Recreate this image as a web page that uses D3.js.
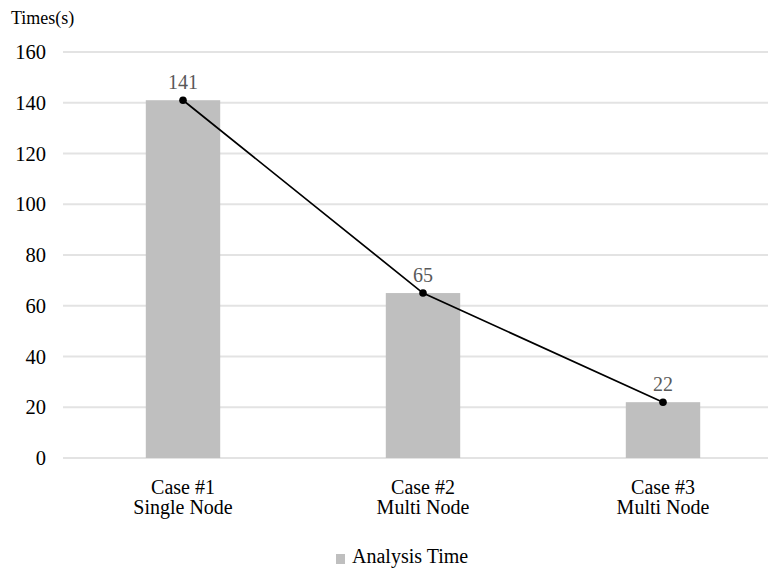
<!DOCTYPE html>
<html><head><meta charset="utf-8">
<script src="https://cdn.jsdelivr.net/npm/d3@7"></script>
<style>body{margin:0;background:#fff}svg{display:block}text{font-family:"Liberation Serif","Times New Roman",serif}</style>
</head><body><svg id="c" width="773" height="572"></svg>
<script>
const categories = [["Case #1","Single Node"],["Case #2","Multi Node"],["Case #3","Multi Node"]];
const values = [141, 65, 22];
const yTicks = [0,20,40,60,80,100,120,140,160];
const seriesName = "Analysis Time";
const yTitle = "Times(s)";

const svg = d3.select("#c");
const x = d3.scaleBand().domain(d3.range(categories.length)).range([63, 783]).paddingInner(0.69).paddingOuter(0.345);
const y = d3.scaleLinear().domain([0,160]).range([458, 52]);

svg.append("g").selectAll("line").data(yTicks).join("line")
  .attr("x1",63).attr("x2",768).attr("y1",d=>y(d)).attr("y2",d=>y(d))
  .attr("stroke","#e3e3e3").attr("stroke-width",2);

svg.append("g").selectAll("text").data(yTicks).join("text")
  .attr("x",46).attr("y",d=>y(d)).attr("dy","0.35em").attr("text-anchor","end")
  .attr("font-size",20.5).attr("fill","#000").text(d=>d);

svg.append("text").attr("x",11).attr("y",24).attr("font-size",18).text(yTitle);

const cx = i => x(i) + x.bandwidth()/2;

svg.append("g").selectAll("rect").data(values).join("rect")
  .attr("x",(d,i)=>x(i)).attr("width",x.bandwidth())
  .attr("y",d=>y(d)).attr("height",d=>y(0)-y(d)).attr("fill","#bfbfbf");

svg.append("path").datum(values)
  .attr("d", d3.line().x((d,i)=>cx(i)).y(d=>y(d)))
  .attr("fill","none").attr("stroke","#000").attr("stroke-width",1.7);
svg.append("g").selectAll("circle").data(values).join("circle")
  .attr("cx",(d,i)=>cx(i)).attr("cy",d=>y(d)).attr("r",3.8).attr("fill","#000");

svg.append("g").selectAll("text").data(values).join("text")
  .attr("x",(d,i)=>cx(i)).attr("y",d=>y(d)-11).attr("text-anchor","middle")
  .attr("font-size",20).attr("fill","#595959").text(d=>d);

const cat = svg.append("g").selectAll("text").data(categories).join("text")
  .attr("x",(d,i)=>cx(i)).attr("y",494).attr("text-anchor","middle").attr("font-size",20).attr("fill","#000");
cat.each(function(d,i){
  const t=d3.select(this);
  d.forEach((line,j)=>t.append("tspan").attr("x",cx(i)).attr("dy",j===0?0:20).text(line));
});

svg.append("rect").attr("x",336).attr("y",554).attr("width",9).attr("height",10).attr("fill","#bfbfbf");
svg.append("text").attr("x",352).attr("y",563).attr("font-size",20).text(seriesName);
</script></body></html>
